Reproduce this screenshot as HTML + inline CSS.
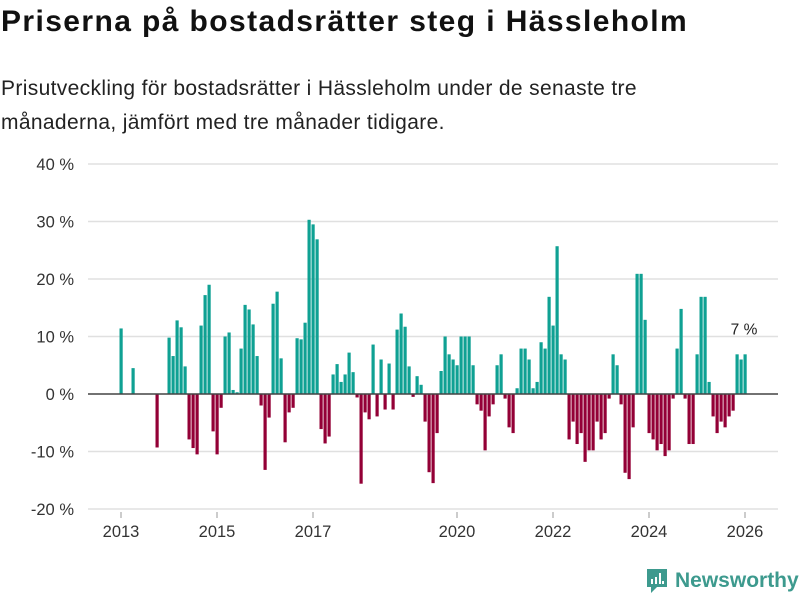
<!DOCTYPE html>
<html><head><meta charset="utf-8">
<style>
body{margin:0;width:800px;height:600px;background:#fff;font-family:"Liberation Sans",sans-serif;color:#111;position:relative;overflow:hidden}
#title{position:absolute;left:1px;top:5px;font-size:30px;font-weight:bold;margin:0;letter-spacing:1.4px}
#sub{position:absolute;left:1px;top:72px;font-size:21px;line-height:34px;margin:0;color:#222;letter-spacing:0.35px}
svg{position:absolute;left:0;top:0}
#logo{position:absolute;left:645px;top:567px;display:flex;align-items:center;gap:6px;color:#3d9a8e;font-weight:bold;font-size:21px}
</style></head><body>
<h1 id="title">Priserna på bostadsrätter steg i Hässleholm</h1>
<p id="sub">Prisutveckling för bostadsrätter i Hässleholm under de senaste tre<br>månaderna, jämfört med tre månader tidigare.</p>
<svg id="chart" width="800" height="600"></svg>
<div id="logo">
<svg width="24" height="28" style="position:static"><path d="M2 2h20v18H12l-6 6v-6H2z" fill="#3d9a8e"/><rect x="6" y="12" width="2" height="5" fill="#fff"/><rect x="10" y="10" width="2" height="7" fill="#fff"/><rect x="14" y="6" width="2" height="11" fill="#fff"/><rect x="17" y="14" width="2" height="3" fill="#fff"/></svg>
<span>Newsworthy</span></div>
<script>
const startYear = 2013;
const values = [11.4,null,null,4.5,null,null,null,null,null,-9.3,null,null,
9.8,6.6,12.8,11.6,4.8,-7.9,-9.4,-10.5,11.9,17.2,19.0,-6.5,
-10.5,-2.4,10.0,10.7,0.7,0.3,7.9,15.5,14.7,12.1,6.6,-2.0,
-13.2,-4.1,15.7,17.8,6.2,-8.4,-3.2,-2.4,9.7,9.5,12.4,30.3,
29.5,26.9,-6.1,-8.6,-7.4,3.4,5.2,2.1,3.4,7.2,3.8,-0.6,
-15.6,-3.2,-4.4,8.6,-3.9,6.0,-2.7,5.3,-2.7,11.2,14.0,11.7,
4.8,-0.5,3.1,1.6,-4.8,-13.6,-15.5,-6.8,4.0,10.0,6.9,6.0,
5.0,10.0,10.0,10.0,5.0,-1.8,-2.9,-9.8,-3.9,-1.8,5.0,6.9,
-0.8,-5.8,-6.8,1.0,7.9,7.9,6.0,1.0,2.1,9.0,7.9,16.9,
11.9,25.7,6.9,6.0,-7.9,-4.8,-8.7,-6.8,-11.8,-9.8,-9.8,-4.8,
-7.9,-6.8,-0.8,6.9,5.0,-1.8,-13.7,-14.8,-5.8,20.9,20.9,12.9,
-6.8,-7.9,-9.8,-8.7,-10.8,-9.8,-0.8,7.9,14.8,-0.8,-8.7,-8.7,
6.9,16.9,16.9,2.1,-3.9,-6.8,-4.8,-5.8,-3.9,-2.9,6.9,6.0,6.9];
const yTicks = [-20,-10,0,10,20,30,40];
const xTickYears = [2013,2015,2017,2020,2022,2024,2026];
const lastLabel = "7 %";

const svg = document.getElementById('chart');
const NS = 'http://www.w3.org/2000/svg';
const y = v => 394 - v * 5.75;
const x = i => 121 + i * 4;
function mk(tag, attrs){const e=document.createElementNS(NS,tag);for(const k in attrs)e.setAttribute(k,attrs[k]);svg.appendChild(e);return e;}
yTicks.forEach(t=>{
  if(t!==0){const g=mk('line',{x1:88,x2:778,y1:y(t),y2:y(t),stroke:'#e0e0e0','stroke-width':1.5});
  
  }
  const tx=mk('text',{x:74,y:y(t)+6,'text-anchor':'end','font-size':16.5,fill:'#333','font-family':'Liberation Sans, sans-serif'});
  tx.textContent=t+' %';
  
  
});
values.forEach((v,i)=>{
  if(v===null)return;
  const r=mk('rect',{x:x(i)-1.5,width:3.2,y:Math.min(y(v),y(0)),height:Math.abs(y(v)-y(0)),fill:v>=0?'#0fa193':'#930036'});
  
  
});
const zl=mk('line',{x1:88,x2:778,y1:y(0),y2:y(0),stroke:'#444','stroke-width':1.5});


xTickYears.forEach(yr=>{
  const i=(yr-startYear)*12;
  const l=mk('line',{x1:x(i),x2:x(i),y1:512,y2:518,stroke:'#999'});
  
  
  const tx=mk('text',{x:x(i),y:537,'text-anchor':'middle','font-size':16.5,fill:'#333','font-family':'Liberation Sans, sans-serif'});
  tx.textContent=yr;
  
  
});
const li=values.length-1;
const lab=mk('text',{x:x(li)-1,y:y(values[li])-20,'text-anchor':'middle','font-size':15.5,fill:'#222','font-family':'Liberation Sans, sans-serif'});
lab.textContent=lastLabel;


</script>
</body></html>
